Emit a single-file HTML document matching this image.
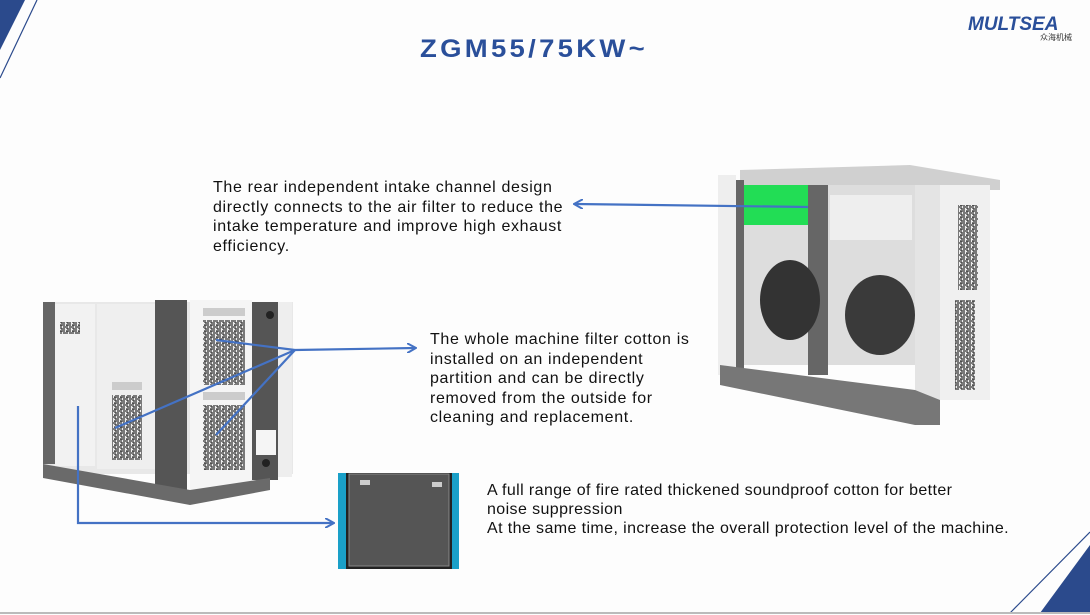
<!DOCTYPE html>
<html><head><meta charset="utf-8"><style>
html,body{margin:0;padding:0;background:#fff}
#c{position:relative;width:1090px;height:615px;overflow:hidden;background:#fdfdfd;font-family:"Liberation Sans","DejaVu Sans",sans-serif}
.t{position:absolute;font-size:16px;line-height:19.5px;color:#111;letter-spacing:0.65px;white-space:nowrap}
svg{position:absolute;left:0;top:0}
</style></head><body><div id="c">
<svg width="1090" height="615" viewBox="0 0 1090 615">
<defs>
<marker id="a" markerWidth="10" markerHeight="10" refX="8" refY="5" orient="auto" markerUnits="userSpaceOnUse"><path d="M0,0 L9,5 L0,10" fill="none" stroke="#4472c4" stroke-width="2"/></marker>
<pattern id="g" width="6" height="6" patternUnits="userSpaceOnUse"><rect width="6" height="6" fill="#eee"/><path d="M0 1h5M1 1v4M3 3h3M1 5h4" stroke="#333" stroke-width="1.2"/></pattern>
</defs>
<polygon points="0,0 25,0 0,50" fill="#2b4a8c"/>
<line x1="37" y1="0" x2="0" y2="78" stroke="#2b4a8c" stroke-width="1.2"/>
<polygon points="1090,545 1090,613 1040,613" fill="#2b4a8c"/>
<line x1="1090" y1="532" x2="1010" y2="613" stroke="#2b4a8c" stroke-width="1.2"/>
<line x1="0" y1="613" x2="1090" y2="613" stroke="#bbb" stroke-width="2"/>
<text x="420" y="57" font-family="Liberation Sans,sans-serif" font-weight="bold" font-size="25" fill="#2a4f9a" letter-spacing="3" textLength="228" lengthAdjust="spacingAndGlyphs">ZGM55/75KW~</text>
<text x="968" y="30" font-family="Liberation Sans,sans-serif" font-weight="bold" font-style="italic" font-size="19" fill="#2a4f9a">MULTSEA</text>
<text x="1040" y="40" font-family="Liberation Sans,'Noto Sans CJK SC',sans-serif" font-size="8" fill="#333">众海机械</text>
<!-- left machine -->
<rect x="43" y="302" width="250" height="172" fill="#e8e8e8"/>
<rect x="43" y="302" width="12" height="162" fill="#666"/>
<rect x="55" y="304" width="40" height="162" fill="#f2f2f2"/>
<rect x="97" y="304" width="58" height="165" fill="#efefef"/>
<rect x="155" y="300" width="32" height="195" fill="#555"/>
<rect x="190" y="300" width="62" height="190" fill="#f5f5f5"/>
<rect x="252" y="302" width="26" height="178" fill="#555"/>
<rect x="278" y="302" width="14" height="175" fill="#eee"/>
<rect x="203" y="320" width="42" height="65" fill="url(#g)"/>
<rect x="203" y="405" width="42" height="65" fill="url(#g)"/>
<rect x="112" y="395" width="30" height="65" fill="url(#g)"/>
<rect x="60" y="322" width="20" height="12" fill="url(#g)"/>
<rect x="203" y="308" width="42" height="8" fill="#ccc"/>
<rect x="203" y="392" width="42" height="8" fill="#ccc"/>
<rect x="112" y="382" width="30" height="8" fill="#ccc"/>
<rect x="256" y="430" width="20" height="25" fill="#f5f5f5"/>
<circle cx="270" cy="315" r="4" fill="#222"/><circle cx="266" cy="463" r="4" fill="#222"/>
<polygon points="43,464 190,490 270,478 270,490 190,505 43,478" fill="#6a6a6a"/>
<!-- right machine -->
<polygon points="740,170 910,165 1000,180 1000,190 740,190" fill="#d0d0d0"/>
<rect x="718" y="175" width="18" height="200" fill="#eee"/>
<rect x="736" y="180" width="8" height="190" fill="#666"/>
<rect x="744" y="185" width="180" height="180" fill="#ddd"/>
<rect x="744" y="185" width="65" height="40" fill="#22dd55"/>
<rect x="808" y="185" width="20" height="190" fill="#666"/>
<rect x="830" y="195" width="82" height="45" fill="#eee"/>
<ellipse cx="790" cy="300" rx="30" ry="40" fill="#333"/>
<ellipse cx="880" cy="315" rx="35" ry="40" fill="#3a3a3a"/>
<rect x="915" y="185" width="25" height="225" fill="#e4e4e4"/>
<rect x="940" y="185" width="50" height="215" fill="#f0f0f0"/>
<rect x="958" y="205" width="20" height="85" fill="url(#g)"/>
<rect x="955" y="300" width="20" height="90" fill="url(#g)"/>
<polygon points="720,365 915,390 940,400 940,425 915,425 720,385" fill="#777"/>
<!-- swatch -->
<rect x="338" y="473" width="121" height="96" fill="#222"/>
<rect x="338" y="473" width="8" height="96" fill="#1aa0c8"/>
<rect x="452" y="473" width="7" height="96" fill="#1aa0c8"/>
<rect x="349" y="474" width="100" height="92" fill="#555" stroke="#888" stroke-width="1"/>
<rect x="360" y="480" width="10" height="5" fill="#ccc"/><rect x="432" y="482" width="10" height="5" fill="#ccc"/>
<g stroke="#4472c4" stroke-width="2.2" fill="none">
<line x1="808" y1="207" x2="575" y2="204" marker-end="url(#a)"/>
<line x1="216" y1="340" x2="295" y2="350"/>
<line x1="115" y1="428" x2="295" y2="350"/>
<line x1="216" y1="435" x2="295" y2="350"/>
<line x1="295" y1="350" x2="415" y2="348" marker-end="url(#a)"/>
<polyline points="78,406 78,523 333,523" marker-end="url(#a)"/>
</g>
</svg>
<div class="t" style="left:213px;top:178px">The rear independent intake channel design<br>directly connects to the air filter to reduce the<br>intake temperature and improve high exhaust<br>efficiency.</div>
<div class="t" style="left:430px;top:330px">The whole machine filter cotton is<br>installed on an independent<br>partition and can be directly<br>removed from the outside for<br>cleaning and replacement.</div>
<div class="t" style="left:487px;top:481px;line-height:19px;letter-spacing:0.4px">A full range of fire rated thickened soundproof cotton for better<br>noise suppression<br>At the same time, increase the overall protection level of the machine.</div>
</div></body></html>
